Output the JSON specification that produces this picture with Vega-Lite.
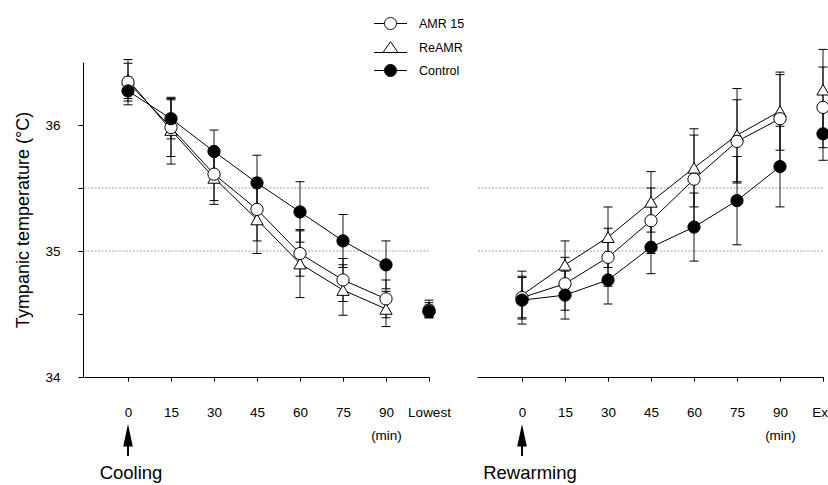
{
  "$schema": "https://vega.github.io/schema/vega-lite/v6.json",
  "padding": {"left": 14, "top": 17, "right": 5, "bottom": 0},
  "background": "white",
  "datasets": {
    "temps": [
      {"phase": "Cooling", "t": 0, "group": "AMR 15", "mean": 36.34, "lo": 36.19, "hi": 36.49},
      {"phase": "Cooling", "t": 0, "group": "ReAMR", "mean": 36.36, "lo": 36.21, "hi": 36.52},
      {"phase": "Cooling", "t": 0, "group": "Control", "mean": 36.27, "lo": 36.16, "hi": 36.38},
      {"phase": "Cooling", "t": 15, "group": "AMR 15", "mean": 35.98, "lo": 35.75, "hi": 36.21},
      {"phase": "Cooling", "t": 15, "group": "ReAMR", "mean": 35.96, "lo": 35.69, "hi": 36.2},
      {"phase": "Cooling", "t": 15, "group": "Control", "mean": 36.05, "lo": 35.89, "hi": 36.22},
      {"phase": "Cooling", "t": 30, "group": "AMR 15", "mean": 35.61, "lo": 35.4, "hi": 35.82},
      {"phase": "Cooling", "t": 30, "group": "ReAMR", "mean": 35.58, "lo": 35.37, "hi": 35.79},
      {"phase": "Cooling", "t": 30, "group": "Control", "mean": 35.79, "lo": 35.62, "hi": 35.96},
      {"phase": "Cooling", "t": 45, "group": "AMR 15", "mean": 35.33, "lo": 35.08, "hi": 35.58},
      {"phase": "Cooling", "t": 45, "group": "ReAMR", "mean": 35.25, "lo": 34.98, "hi": 35.52},
      {"phase": "Cooling", "t": 45, "group": "Control", "mean": 35.54, "lo": 35.32, "hi": 35.76},
      {"phase": "Cooling", "t": 60, "group": "AMR 15", "mean": 34.98, "lo": 34.8, "hi": 35.16},
      {"phase": "Cooling", "t": 60, "group": "ReAMR", "mean": 34.9, "lo": 34.63, "hi": 35.17},
      {"phase": "Cooling", "t": 60, "group": "Control", "mean": 35.31, "lo": 35.07, "hi": 35.55},
      {"phase": "Cooling", "t": 75, "group": "AMR 15", "mean": 34.77, "lo": 34.6, "hi": 34.94},
      {"phase": "Cooling", "t": 75, "group": "ReAMR", "mean": 34.69, "lo": 34.49, "hi": 34.89},
      {"phase": "Cooling", "t": 75, "group": "Control", "mean": 35.08, "lo": 34.87, "hi": 35.29},
      {"phase": "Cooling", "t": 90, "group": "AMR 15", "mean": 34.62, "lo": 34.47, "hi": 34.77},
      {"phase": "Cooling", "t": 90, "group": "ReAMR", "mean": 34.54, "lo": 34.4, "hi": 34.68},
      {"phase": "Cooling", "t": 90, "group": "Control", "mean": 34.89, "lo": 34.7, "hi": 35.08},
      {"phase": "Cooling", "t": 105, "group": "AMR 15", "mean": 34.53, "lo": 34.47, "hi": 34.59},
      {"phase": "Cooling", "t": 105, "group": "ReAMR", "mean": 34.55, "lo": 34.48, "hi": 34.61},
      {"phase": "Cooling", "t": 105, "group": "Control", "mean": 34.52, "lo": 34.47, "hi": 34.57},
      {"phase": "Rewarming", "t": 0, "group": "AMR 15", "mean": 34.63, "lo": 34.47, "hi": 34.79},
      {"phase": "Rewarming", "t": 0, "group": "ReAMR", "mean": 34.65, "lo": 34.46, "hi": 34.84},
      {"phase": "Rewarming", "t": 0, "group": "Control", "mean": 34.61, "lo": 34.42, "hi": 34.8},
      {"phase": "Rewarming", "t": 15, "group": "AMR 15", "mean": 34.74, "lo": 34.53, "hi": 34.95},
      {"phase": "Rewarming", "t": 15, "group": "ReAMR", "mean": 34.89, "lo": 34.7, "hi": 35.08},
      {"phase": "Rewarming", "t": 15, "group": "Control", "mean": 34.65, "lo": 34.46, "hi": 34.84},
      {"phase": "Rewarming", "t": 30, "group": "AMR 15", "mean": 34.95, "lo": 34.72, "hi": 35.18},
      {"phase": "Rewarming", "t": 30, "group": "ReAMR", "mean": 35.11, "lo": 34.87, "hi": 35.35},
      {"phase": "Rewarming", "t": 30, "group": "Control", "mean": 34.77, "lo": 34.58, "hi": 34.96},
      {"phase": "Rewarming", "t": 45, "group": "AMR 15", "mean": 35.24, "lo": 34.98, "hi": 35.5},
      {"phase": "Rewarming", "t": 45, "group": "ReAMR", "mean": 35.39, "lo": 35.15, "hi": 35.63},
      {"phase": "Rewarming", "t": 45, "group": "Control", "mean": 35.03, "lo": 34.82, "hi": 35.24},
      {"phase": "Rewarming", "t": 60, "group": "AMR 15", "mean": 35.57, "lo": 35.22, "hi": 35.92},
      {"phase": "Rewarming", "t": 60, "group": "ReAMR", "mean": 35.66, "lo": 35.35, "hi": 35.97},
      {"phase": "Rewarming", "t": 60, "group": "Control", "mean": 35.19, "lo": 34.92, "hi": 35.46},
      {"phase": "Rewarming", "t": 75, "group": "AMR 15", "mean": 35.87, "lo": 35.54, "hi": 36.2},
      {"phase": "Rewarming", "t": 75, "group": "ReAMR", "mean": 35.92, "lo": 35.55, "hi": 36.29},
      {"phase": "Rewarming", "t": 75, "group": "Control", "mean": 35.4, "lo": 35.05, "hi": 35.75},
      {"phase": "Rewarming", "t": 90, "group": "AMR 15", "mean": 36.05, "lo": 35.7, "hi": 36.4},
      {"phase": "Rewarming", "t": 90, "group": "ReAMR", "mean": 36.11, "lo": 35.8, "hi": 36.42},
      {"phase": "Rewarming", "t": 90, "group": "Control", "mean": 35.67, "lo": 35.35, "hi": 35.99},
      {"phase": "Rewarming", "t": 105, "group": "AMR 15", "mean": 36.14, "lo": 35.82, "hi": 36.46},
      {"phase": "Rewarming", "t": 105, "group": "ReAMR", "mean": 36.28, "lo": 35.96, "hi": 36.6},
      {"phase": "Rewarming", "t": 105, "group": "Control", "mean": 35.93, "lo": 35.72, "hi": 36.14}
    ],
    "refs": [{"ref": 35}, {"ref": 35.5}],
    "notes": [
      {"phase": "Cooling", "t": 0, "arrowY": 33.5, "textY": 33.235, "label": "Cooling"},
      {"phase": "Rewarming", "t": 0, "arrowY": 33.5, "textY": 33.235, "label": "Rewarming"}
    ]
  },
  "resolve": {
    "scale": {"fill": "independent"},
    "legend": {"fill": "independent"}
  },
  "hconcat": [
    {
      "width": 346,
      "height": 315,
      "layer": [
        {
          "data": {"name": "refs"},
          "mark": {"type": "rule", "color": "#8c8c8c", "strokeWidth": 0.8, "strokeDash": [2, 1.5]},
          "encoding": {
            "y": {"field": "ref", "type": "quantitative", "scale": {"domain": [34, 36.5], "nice": false, "zero": false},
              "axis": {"values": [34, 34.5, 35, 35.5, 36], "labelExpr": "datum.value % 1 === 0 ? format(datum.value, 'd') : ''", "title": "Tympanic temperature (°C)", "tickSize": 5, "labelPadding": 18, "titlePadding": 12}}
          }
        },
        {
          "data": {"name": "temps"},
          "transform": [{"filter": "datum.phase === 'Cooling'"}],
          "mark": {"type": "rule", "color": "black", "strokeWidth": 0.9},
          "encoding": {
            "x": {"field": "t", "type": "quantitative", "scale": {"domain": [-15.7, 105], "nice": false, "zero": false},
              "axis": {"values": [0, 15, 30, 45, 60, 75, 90, 105], "labelExpr": "datum.value === 105 ? 'Lowest' : datum.value === 90 ? ['90', '(min)'] : datum.label", "title": null, "tickSize": 4, "labelPadding": 24, "labelLineHeight": 23, "labelOverlap": false, "labelFlush": false}},
            "y": {"field": "lo", "type": "quantitative", "scale": {"domain": [34, 36.5], "nice": false, "zero": false},
              "axis": {"values": [34, 34.5, 35, 35.5, 36], "labelExpr": "datum.value % 1 === 0 ? format(datum.value, 'd') : ''", "title": "Tympanic temperature (°C)", "tickSize": 5, "labelPadding": 18, "titlePadding": 12}},
            "y2": {"field": "hi"}
          }
        },
        {
          "data": {"name": "temps"},
          "transform": [{"filter": "datum.phase === 'Cooling'"}],
          "mark": {"type": "tick", "orient": "horizontal", "size": 9, "thickness": 1, "color": "black", "opacity": 1},
          "encoding": {
            "x": {"field": "t", "type": "quantitative", "scale": {"domain": [-15.7, 105], "nice": false, "zero": false},
              "axis": {"values": [0, 15, 30, 45, 60, 75, 90, 105], "labelExpr": "datum.value === 105 ? 'Lowest' : datum.value === 90 ? ['90', '(min)'] : datum.label", "title": null, "tickSize": 4, "labelPadding": 24, "labelLineHeight": 23, "labelOverlap": false, "labelFlush": false}},
            "y": {"field": "lo", "type": "quantitative", "scale": {"domain": [34, 36.5], "nice": false, "zero": false},
              "axis": {"values": [34, 34.5, 35, 35.5, 36], "labelExpr": "datum.value % 1 === 0 ? format(datum.value, 'd') : ''", "title": "Tympanic temperature (°C)", "tickSize": 5, "labelPadding": 18, "titlePadding": 12}}
          }
        },
        {
          "data": {"name": "temps"},
          "transform": [{"filter": "datum.phase === 'Cooling'"}],
          "mark": {"type": "tick", "orient": "horizontal", "size": 9, "thickness": 1, "color": "black", "opacity": 1},
          "encoding": {
            "x": {"field": "t", "type": "quantitative", "scale": {"domain": [-15.7, 105], "nice": false, "zero": false},
              "axis": {"values": [0, 15, 30, 45, 60, 75, 90, 105], "labelExpr": "datum.value === 105 ? 'Lowest' : datum.value === 90 ? ['90', '(min)'] : datum.label", "title": null, "tickSize": 4, "labelPadding": 24, "labelLineHeight": 23, "labelOverlap": false, "labelFlush": false}},
            "y": {"field": "hi", "type": "quantitative", "scale": {"domain": [34, 36.5], "nice": false, "zero": false},
              "axis": {"values": [34, 34.5, 35, 35.5, 36], "labelExpr": "datum.value % 1 === 0 ? format(datum.value, 'd') : ''", "title": "Tympanic temperature (°C)", "tickSize": 5, "labelPadding": 18, "titlePadding": 12}}
          }
        },
        {
          "data": {"name": "temps"},
          "transform": [{"filter": "datum.phase === 'Cooling' && datum.t <= 90"}],
          "mark": {"type": "line", "color": "black", "strokeWidth": 1},
          "encoding": {
            "x": {"field": "t", "type": "quantitative", "scale": {"domain": [-15.7, 105], "nice": false, "zero": false},
              "axis": {"values": [0, 15, 30, 45, 60, 75, 90, 105], "labelExpr": "datum.value === 105 ? 'Lowest' : datum.value === 90 ? ['90', '(min)'] : datum.label", "title": null, "tickSize": 4, "labelPadding": 24, "labelLineHeight": 23, "labelOverlap": false, "labelFlush": false}},
            "y": {"field": "mean", "type": "quantitative", "scale": {"domain": [34, 36.5], "nice": false, "zero": false},
              "axis": {"values": [34, 34.5, 35, 35.5, 36], "labelExpr": "datum.value % 1 === 0 ? format(datum.value, 'd') : ''", "title": "Tympanic temperature (°C)", "tickSize": 5, "labelPadding": 18, "titlePadding": 12}},
            "detail": {"field": "group", "type": "nominal"}
          }
        },
        {
          "data": {"name": "temps"},
          "transform": [{"filter": "datum.phase === 'Cooling' && datum.group === 'ReAMR'"}],
          "mark": {"type": "point", "filled": true, "shape": "triangle-up", "fill": "white", "size": 150, "stroke": "black", "strokeWidth": 1, "opacity": 1},
          "encoding": {
            "x": {"field": "t", "type": "quantitative", "scale": {"domain": [-15.7, 105], "nice": false, "zero": false},
              "axis": {"values": [0, 15, 30, 45, 60, 75, 90, 105], "labelExpr": "datum.value === 105 ? 'Lowest' : datum.value === 90 ? ['90', '(min)'] : datum.label", "title": null, "tickSize": 4, "labelPadding": 24, "labelLineHeight": 23, "labelOverlap": false, "labelFlush": false}},
            "y": {"field": "mean", "type": "quantitative", "scale": {"domain": [34, 36.5], "nice": false, "zero": false},
              "axis": {"values": [34, 34.5, 35, 35.5, 36], "labelExpr": "datum.value % 1 === 0 ? format(datum.value, 'd') : ''", "title": "Tympanic temperature (°C)", "tickSize": 5, "labelPadding": 18, "titlePadding": 12}}
          }
        },
        {
          "data": {"name": "temps"},
          "transform": [{"filter": "datum.phase === 'Cooling' && datum.group !== 'ReAMR'"}],
          "mark": {"type": "point", "filled": true, "size": 150, "stroke": "black", "strokeWidth": 1, "opacity": 1},
          "encoding": {
            "x": {"field": "t", "type": "quantitative", "scale": {"domain": [-15.7, 105], "nice": false, "zero": false},
              "axis": {"values": [0, 15, 30, 45, 60, 75, 90, 105], "labelExpr": "datum.value === 105 ? 'Lowest' : datum.value === 90 ? ['90', '(min)'] : datum.label", "title": null, "tickSize": 4, "labelPadding": 24, "labelLineHeight": 23, "labelOverlap": false, "labelFlush": false}},
            "y": {"field": "mean", "type": "quantitative", "scale": {"domain": [34, 36.5], "nice": false, "zero": false},
              "axis": {"values": [34, 34.5, 35, 35.5, 36], "labelExpr": "datum.value % 1 === 0 ? format(datum.value, 'd') : ''", "title": "Tympanic temperature (°C)", "tickSize": 5, "labelPadding": 18, "titlePadding": 12}},
            "fill": {
              "field": "group", "type": "nominal",
              "scale": {"domain": ["AMR 15", "ReAMR", "Control"], "range": ["white", "white", "black"]},
              "legend": {
                "title": null,
                "symbolType": {"expr": "datum.value === 'ReAMR' ? 'M-2.75,0.75H-1.25M1.25,0.75H2.75M0,-1.05L1.25,0.75L-1.25,0.75Z' : 'M-2.75,0H-1M1,0H2.75M1,0A1,1,0,1,1,-1,0A1,1,0,1,1,1,0Z'"},
                "encode": {"symbols": {
                  "stroke": {"value": "black"},
                  "strokeWidth": {"value": 1}
                }}
              }
            }
          }
        },
        {
          "data": {"name": "notes"},
          "transform": [{"filter": "datum.phase === 'Cooling'"}],
          "mark": {"type": "point", "filled": true, "color": "black", "opacity": 1, "size": 1024, "shape": "M0,-1L0.3,0.4L0.06,0.4L0.06,1L-0.06,1L-0.06,0.4L-0.3,0.4Z"},
          "encoding": {
            "x": {"field": "t", "type": "quantitative", "scale": {"domain": [-15.7, 105], "nice": false, "zero": false},
              "axis": {"values": [0, 15, 30, 45, 60, 75, 90, 105], "labelExpr": "datum.value === 105 ? 'Lowest' : datum.value === 90 ? ['90', '(min)'] : datum.label", "title": null, "tickSize": 4, "labelPadding": 24, "labelLineHeight": 23, "labelOverlap": false, "labelFlush": false}},
            "y": {"field": "arrowY", "type": "quantitative", "scale": {"domain": [34, 36.5], "nice": false, "zero": false},
              "axis": {"values": [34, 34.5, 35, 35.5, 36], "labelExpr": "datum.value % 1 === 0 ? format(datum.value, 'd') : ''", "title": "Tympanic temperature (°C)", "tickSize": 5, "labelPadding": 18, "titlePadding": 12}}
          }
        },
        {
          "data": {"name": "notes"},
          "transform": [{"filter": "datum.phase === 'Cooling'"}],
          "mark": {"type": "text", "fontSize": 18.5, "font": "Liberation Sans", "color": "black", "baseline": "middle", "align": "center", "dx": 3},
          "encoding": {
            "x": {"field": "t", "type": "quantitative", "scale": {"domain": [-15.7, 105], "nice": false, "zero": false},
              "axis": {"values": [0, 15, 30, 45, 60, 75, 90, 105], "labelExpr": "datum.value === 105 ? 'Lowest' : datum.value === 90 ? ['90', '(min)'] : datum.label", "title": null, "tickSize": 4, "labelPadding": 24, "labelLineHeight": 23, "labelOverlap": false, "labelFlush": false}},
            "y": {"field": "textY", "type": "quantitative", "scale": {"domain": [34, 36.5], "nice": false, "zero": false},
              "axis": {"values": [34, 34.5, 35, 35.5, 36], "labelExpr": "datum.value % 1 === 0 ? format(datum.value, 'd') : ''", "title": "Tympanic temperature (°C)", "tickSize": 5, "labelPadding": 18, "titlePadding": 12}},
            "text": {"field": "label"}
          }
        }
      ]
    },
    {
      "width": 346,
      "height": 315,
      "layer": [
        {
          "data": {"name": "refs"},
          "mark": {"type": "rule", "color": "#8c8c8c", "strokeWidth": 0.8, "strokeDash": [2, 1.5]},
          "encoding": {
            "y": {"field": "ref", "type": "quantitative", "scale": {"domain": [34, 36.5], "nice": false, "zero": false}, "axis": null}
          }
        },
        {
          "data": {"name": "temps"},
          "transform": [{"filter": "datum.phase === 'Rewarming'"}],
          "mark": {"type": "rule", "color": "black", "strokeWidth": 0.9},
          "encoding": {
            "x": {"field": "t", "type": "quantitative", "scale": {"domain": [-15.7, 105], "nice": false, "zero": false},
              "axis": {"values": [0, 15, 30, 45, 60, 75, 90, 105], "labelExpr": "datum.value === 105 ? 'Exit' : datum.value === 90 ? ['90', '(min)'] : datum.label", "title": null, "tickSize": 4, "labelPadding": 24, "labelLineHeight": 23, "labelOverlap": false, "labelFlush": false}},
            "y": {"field": "lo", "type": "quantitative", "scale": {"domain": [34, 36.5], "nice": false, "zero": false}, "axis": null},
            "y2": {"field": "hi"}
          }
        },
        {
          "data": {"name": "temps"},
          "transform": [{"filter": "datum.phase === 'Rewarming'"}],
          "mark": {"type": "tick", "orient": "horizontal", "size": 9, "thickness": 1, "color": "black", "opacity": 1},
          "encoding": {
            "x": {"field": "t", "type": "quantitative", "scale": {"domain": [-15.7, 105], "nice": false, "zero": false},
              "axis": {"values": [0, 15, 30, 45, 60, 75, 90, 105], "labelExpr": "datum.value === 105 ? 'Exit' : datum.value === 90 ? ['90', '(min)'] : datum.label", "title": null, "tickSize": 4, "labelPadding": 24, "labelLineHeight": 23, "labelOverlap": false, "labelFlush": false}},
            "y": {"field": "lo", "type": "quantitative", "scale": {"domain": [34, 36.5], "nice": false, "zero": false}, "axis": null}
          }
        },
        {
          "data": {"name": "temps"},
          "transform": [{"filter": "datum.phase === 'Rewarming'"}],
          "mark": {"type": "tick", "orient": "horizontal", "size": 9, "thickness": 1, "color": "black", "opacity": 1},
          "encoding": {
            "x": {"field": "t", "type": "quantitative", "scale": {"domain": [-15.7, 105], "nice": false, "zero": false},
              "axis": {"values": [0, 15, 30, 45, 60, 75, 90, 105], "labelExpr": "datum.value === 105 ? 'Exit' : datum.value === 90 ? ['90', '(min)'] : datum.label", "title": null, "tickSize": 4, "labelPadding": 24, "labelLineHeight": 23, "labelOverlap": false, "labelFlush": false}},
            "y": {"field": "hi", "type": "quantitative", "scale": {"domain": [34, 36.5], "nice": false, "zero": false}, "axis": null}
          }
        },
        {
          "data": {"name": "temps"},
          "transform": [{"filter": "datum.phase === 'Rewarming' && datum.t <= 90"}],
          "mark": {"type": "line", "color": "black", "strokeWidth": 1},
          "encoding": {
            "x": {"field": "t", "type": "quantitative", "scale": {"domain": [-15.7, 105], "nice": false, "zero": false},
              "axis": {"values": [0, 15, 30, 45, 60, 75, 90, 105], "labelExpr": "datum.value === 105 ? 'Exit' : datum.value === 90 ? ['90', '(min)'] : datum.label", "title": null, "tickSize": 4, "labelPadding": 24, "labelLineHeight": 23, "labelOverlap": false, "labelFlush": false}},
            "y": {"field": "mean", "type": "quantitative", "scale": {"domain": [34, 36.5], "nice": false, "zero": false}, "axis": null},
            "detail": {"field": "group", "type": "nominal"}
          }
        },
        {
          "data": {"name": "temps"},
          "transform": [{"filter": "datum.phase === 'Rewarming' && datum.group === 'ReAMR'"}],
          "mark": {"type": "point", "filled": true, "shape": "triangle-up", "fill": "white", "size": 150, "stroke": "black", "strokeWidth": 1, "opacity": 1},
          "encoding": {
            "x": {"field": "t", "type": "quantitative", "scale": {"domain": [-15.7, 105], "nice": false, "zero": false},
              "axis": {"values": [0, 15, 30, 45, 60, 75, 90, 105], "labelExpr": "datum.value === 105 ? 'Exit' : datum.value === 90 ? ['90', '(min)'] : datum.label", "title": null, "tickSize": 4, "labelPadding": 24, "labelLineHeight": 23, "labelOverlap": false, "labelFlush": false}},
            "y": {"field": "mean", "type": "quantitative", "scale": {"domain": [34, 36.5], "nice": false, "zero": false}, "axis": null}
          }
        },
        {
          "data": {"name": "temps"},
          "transform": [{"filter": "datum.phase === 'Rewarming' && datum.group !== 'ReAMR'"}],
          "mark": {"type": "point", "filled": true, "size": 150, "stroke": "black", "strokeWidth": 1, "opacity": 1},
          "encoding": {
            "x": {"field": "t", "type": "quantitative", "scale": {"domain": [-15.7, 105], "nice": false, "zero": false},
              "axis": {"values": [0, 15, 30, 45, 60, 75, 90, 105], "labelExpr": "datum.value === 105 ? 'Exit' : datum.value === 90 ? ['90', '(min)'] : datum.label", "title": null, "tickSize": 4, "labelPadding": 24, "labelLineHeight": 23, "labelOverlap": false, "labelFlush": false}},
            "y": {"field": "mean", "type": "quantitative", "scale": {"domain": [34, 36.5], "nice": false, "zero": false}, "axis": null},
            "fill": {
              "field": "group", "type": "nominal",
              "scale": {"domain": ["AMR 15", "ReAMR", "Control"], "range": ["white", "white", "black"]},
              "legend": null
            }
          }
        },
        {
          "data": {"name": "notes"},
          "transform": [{"filter": "datum.phase === 'Rewarming'"}],
          "mark": {"type": "point", "filled": true, "color": "black", "opacity": 1, "size": 1024, "shape": "M0,-1L0.3,0.4L0.06,0.4L0.06,1L-0.06,1L-0.06,0.4L-0.3,0.4Z"},
          "encoding": {
            "x": {"field": "t", "type": "quantitative", "scale": {"domain": [-15.7, 105], "nice": false, "zero": false},
              "axis": {"values": [0, 15, 30, 45, 60, 75, 90, 105], "labelExpr": "datum.value === 105 ? 'Exit' : datum.value === 90 ? ['90', '(min)'] : datum.label", "title": null, "tickSize": 4, "labelPadding": 24, "labelLineHeight": 23, "labelOverlap": false, "labelFlush": false}},
            "y": {"field": "arrowY", "type": "quantitative", "scale": {"domain": [34, 36.5], "nice": false, "zero": false}, "axis": null}
          }
        },
        {
          "data": {"name": "notes"},
          "transform": [{"filter": "datum.phase === 'Rewarming'"}],
          "mark": {"type": "text", "fontSize": 18.5, "font": "Liberation Sans", "color": "black", "baseline": "middle", "align": "center", "dx": 8},
          "encoding": {
            "x": {"field": "t", "type": "quantitative", "scale": {"domain": [-15.7, 105], "nice": false, "zero": false},
              "axis": {"values": [0, 15, 30, 45, 60, 75, 90, 105], "labelExpr": "datum.value === 105 ? 'Exit' : datum.value === 90 ? ['90', '(min)'] : datum.label", "title": null, "tickSize": 4, "labelPadding": 24, "labelLineHeight": 23, "labelOverlap": false, "labelFlush": false}},
            "y": {"field": "textY", "type": "quantitative", "scale": {"domain": [34, 36.5], "nice": false, "zero": false}, "axis": null},
            "text": {"field": "label"}
          }
        }
      ]
    }
  ],
  "spacing": 48,
  "bounds": "flush",
  "config": {
    "view": {"stroke": null},
    "font": "Liberation Sans",
    "axis": {
      "grid": false,
      "domainColor": "black",
      "domainWidth": 1,
      "tickColor": "black",
      "tickWidth": 1,
      "labelColor": "black",
      "labelFont": "Liberation Sans",
      "labelFontSize": 13.5,
      "titleColor": "black",
      "titleFont": "Liberation Sans",
      "titleFontSize": 18,
      "titleFontWeight": "normal"
    },
    "legend": {
      "orient": "none",
      "legendX": 301,
      "legendY": -45,
      "padding": 0,
      "labelFont": "Liberation Sans",
      "labelFontSize": 12.5,
      "labelColor": "black",
      "labelOffset": 22,
      "symbolSize": 144,
      "symbolStrokeWidth": 1,
      "symbolStrokeColor": "black",
      "rowPadding": 7.5
    }
  }
}
